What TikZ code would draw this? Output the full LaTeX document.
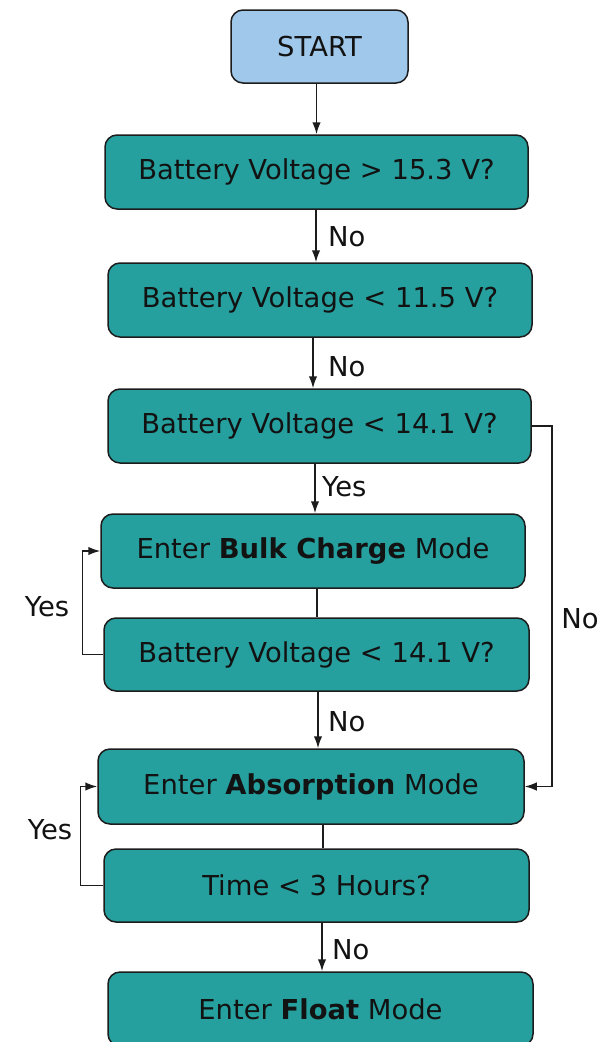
\documentclass[tikz,border=0pt]{standalone}
\usepackage{fontspec}
\setmainfont{DejaVu Sans}
\usetikzlibrary{arrows.meta}
\definecolor{tealbox}{RGB}{38,160,158}
\definecolor{startblue}{RGB}{160,200,234}
\definecolor{edgec}{RGB}{28,28,28}
\definecolor{txt}{RGB}{18,18,18}
\begin{document}
\begin{tikzpicture}[x=1pt,y=-1pt, font=\fontsize{27.4}{32}\selectfont,
  box/.style={draw=edgec, line width=1.5pt, rounded corners=12pt, fill=tealbox, text=txt, inner sep=0pt, minimum height=74pt},
  arr/.style={draw=edgec, line width=1.5pt, -{Latex[length=12pt,width=8.5pt]}},
  ln/.style={draw=edgec, line width=1.5pt},
  lbl/.style={text=txt, inner sep=0pt}]
\useasboundingbox (0,0) rectangle (613,1042);
\fill[white] (0,0) rectangle (613,1042);
\node[box, fill=startblue, minimum width=177pt, minimum height=73pt] (start) at (319.5,46.5) {START};
\node[box, minimum width=423pt] (b1) at (316.5,172) {Battery Voltage > 15.3 V?};
\node[box, minimum width=424pt] (b2) at (320,300) {Battery Voltage < 11.5 V?};
\node[box, minimum width=423pt] (b3) at (319.5,426) {Battery Voltage < 14.1 V?};
\node[box, minimum width=424pt] (b4) at (313,551) {Enter \textbf{Bulk Charge} Mode};
\node[box, minimum width=425pt, minimum height=73pt] (b5) at (316.5,654.5) {Battery Voltage < 14.1 V?};
\node[box, minimum width=426pt, minimum height=75pt] (b6) at (311,786.5) {Enter \textbf{Absorption} Mode};
\node[box, minimum width=425pt, minimum height=73pt] (b7) at (316.5,885.5) {Time < 3 Hours?};
\node[box, minimum width=425pt, minimum height=74pt] (b8) at (320.5,1009) {Enter \textbf{Float} Mode};
% straight connectors
\draw[arr] ([xshift=-3pt]start.south) -- ([xshift=-3pt]start.south |- b1.north);
\draw[arr] ([xshift=-0.5pt]b1.south) -- ([xshift=-0.5pt]b1.south |- b2.north);
\draw[arr] ([xshift=-7pt]b2.south) -- ([xshift=-7pt]b2.south |- b3.north);
\draw[arr] ([xshift=-4.5pt]b3.south) -- ([xshift=-4.5pt]b3.south |- b4.north);
\draw[ln] ([xshift=4pt]b4.south) -- ([xshift=4pt]b4.south |- b5.north);
\draw[arr] ([xshift=1.5pt]b5.south) -- ([xshift=1.5pt]b5.south |- b6.north);
\draw[ln] ([xshift=12pt]b6.south) -- ([xshift=12pt]b6.south |- b7.north);
\draw[arr] ([xshift=5.5pt]b7.south) -- ([xshift=5.5pt]b7.south |- b8.north);
% loops
\draw[arr] (b5.west) -- ++(-21,0) |- (b4.west);
\draw[arr] (b7.west) -- ++(-23,0) |- (b6.west);
\draw[arr] (b3.east) -- ++(20,0) |- (b6.east);
% labels
\node[lbl, anchor=west] (l1) at (328,237) {No};
\node[lbl, anchor=west] (l2) at (328,367) {No};
\node[lbl, anchor=west] (l3) at (322,487) {Yes};
\node[lbl, anchor=west] (l4) at (328,722) {No};
\node[lbl, anchor=west] (l5) at (332,950) {No};
\node[lbl] (l6) at (47,607) {Yes};
\node[lbl] (l7) at (50,830) {Yes};
\node[lbl] (l8) at (580,619) {No};
\end{tikzpicture}
\end{document}
